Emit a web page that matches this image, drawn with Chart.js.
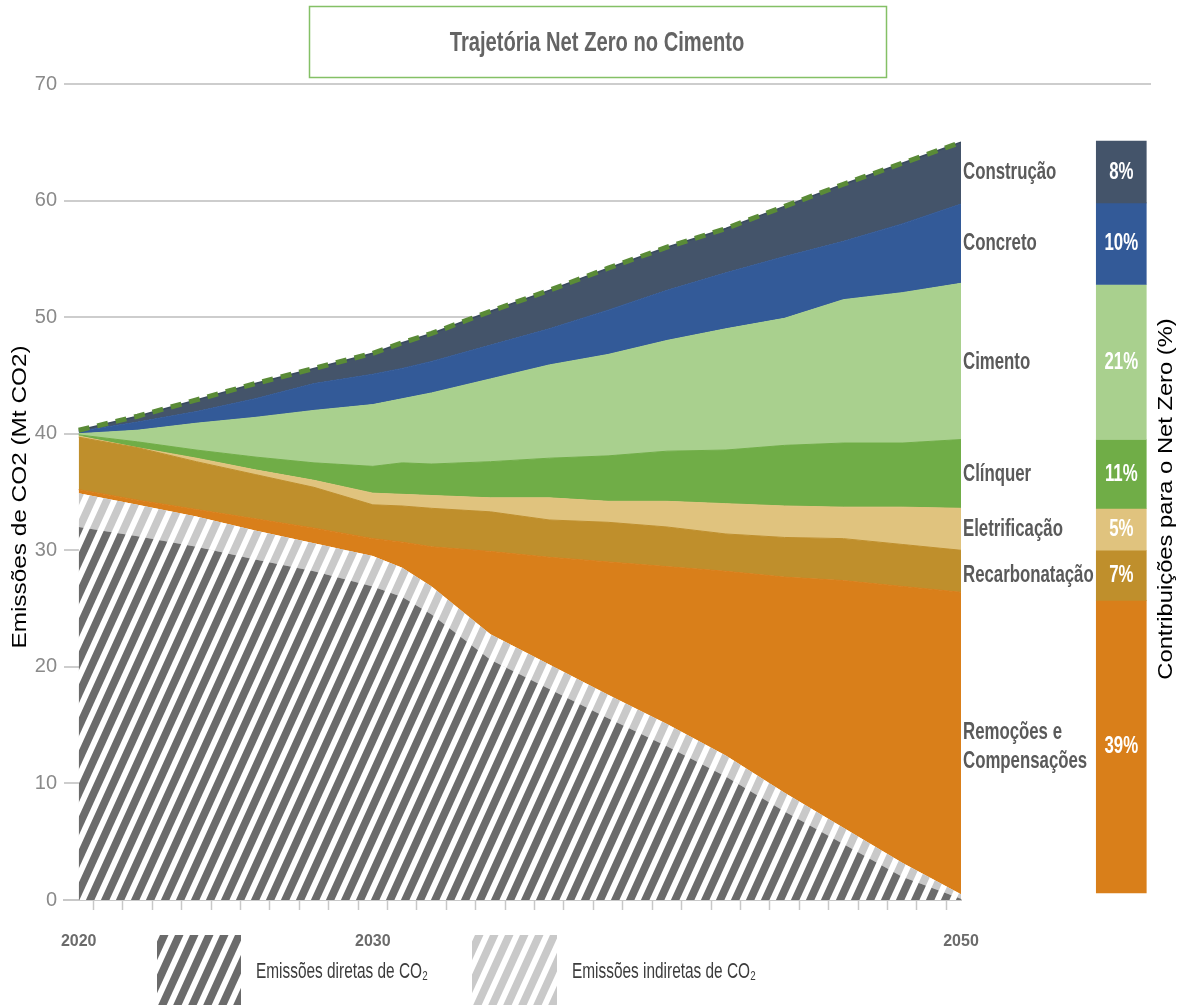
<!DOCTYPE html>
<html lang="pt">
<head>
  <meta charset="UTF-8">
  <title>Trajetória Net Zero no Cimento</title>
  <script src="https://cdn.jsdelivr.net/npm/chart.js"></script>
  <style>
    html, body { margin: 0; padding: 0; background: #fff; }
    canvas { display: block; }
  </style>
</head>
<body>
  <canvas id="netZero" width="1180" height="1007"></canvas>
  <script>
    // --- data (Mt CO2 per layer, stacked bottom to top) ---
    const years = [2020, 2022, 2024, 2026, 2028, 2030, 2031, 2032, 2034, 2036, 2038, 2040, 2042, 2044, 2046, 2048, 2050];
    const diretas        = [32.0, 31.2, 30.3, 29.2, 28.2, 26.9, 26.0, 24.5, 20.6, 18.1, 15.6, 13.2, 10.6, 7.6, 4.8, 2.0, 0.1];
    const indiretas      = [2.9, 2.7, 2.6, 2.5, 2.4, 2.6, 2.5, 2.4, 2.2, 2.1, 2.0, 1.9, 1.8, 1.6, 1.4, 1.2, 0.4];
    const remocoes       = [0.3, 0.4, 0.6, 1.0, 1.3, 1.5, 2.2, 3.4, 7.1, 9.2, 11.4, 13.5, 15.8, 18.5, 21.2, 23.7, 25.9];
    const recarbonatacao = [4.5, 4.5, 4.1, 3.8, 3.5, 2.9, 3.1, 3.3, 3.4, 3.2, 3.4, 3.4, 3.2, 3.4, 3.6, 3.6, 3.6];
    const eletrificacao  = [0.1, 0.0, 0.3, 0.4, 0.6, 1.0, 1.0, 1.1, 1.2, 1.9, 1.8, 2.2, 2.6, 2.7, 2.7, 3.2, 3.6];
    const clinquer       = [0.1, 0.5, 0.7, 1.1, 1.5, 2.3, 2.7, 2.7, 3.1, 3.4, 3.9, 4.3, 4.6, 5.2, 5.5, 5.5, 5.9];
    const cimento        = [0.1, 1.0, 2.3, 3.4, 4.5, 5.3, 5.5, 6.1, 7.1, 8.0, 8.7, 9.5, 10.4, 10.9, 12.3, 12.9, 13.4];
    const concreto       = [0.2, 0.7, 1.0, 1.6, 2.3, 2.6, 2.6, 2.7, 2.9, 3.1, 3.8, 4.3, 4.8, 5.3, 5.0, 5.9, 6.8];
    const construcao     = [0.1, 0.5, 1.0, 1.3, 1.3, 1.8, 2.2, 2.4, 2.9, 3.3, 3.6, 3.7, 3.8, 4.3, 4.9, 5.2, 5.3];

    // contribution column (bottom to top)
    const contribNames = ['Remoções e\nCompensações', 'Recarbonatação', 'Eletrificação', 'Clínquer', 'Cimento', 'Concreto', 'Construção'];
    const contribPct   = [39, 7, 5, 11, 21, 10, 8];
    const contribEdges = [0.6, 25.7, 30.0, 33.6, 39.5, 52.8, 59.8, 65.1];

    const labeledYears = [2020, 2030, 2050];
    const yTicks = [0, 10, 20, 30, 40, 50, 60, 70];

    // --- styling / layout ---
    const SANS = "'Liberation Sans', Arial, sans-serif";
    const COLORS = {
      remocoes: '#d97f1a', recarb: '#bf8f2c', eletr: '#e0c37e', clinquer: '#70ad47',
      cimento: '#a9d08e', concreto: '#335a98', construcao: '#44546a'
    };
    const contribColors = [COLORS.remocoes, COLORS.recarb, COLORS.eletr, COLORS.clinquer, COLORS.cimento, COLORS.concreto, COLORS.construcao];
    const COLUMN_X = 2055.45;   // where the contribution column sits, in axis units
    const GRID = '#cdcdcd';

    const canvas = document.getElementById('netZero');
    const ctx = canvas.getContext('2d');

    function makeHatch(stripe) {
      const P = 15, H = 33, sw = 8.5;
      const tile = document.createElement('canvas');
      tile.width = P; tile.height = H;
      const g = tile.getContext('2d');
      g.fillStyle = '#fff';
      g.fillRect(0, 0, P, H);
      g.fillStyle = stripe;
      for (const o of [-P, 0, P]) {
        g.beginPath();
        g.moveTo(o, H);
        g.lineTo(o + sw, H);
        g.lineTo(o + sw + P, 0);
        g.lineTo(o + P, 0);
        g.closePath();
        g.fill();
      }
      return ctx.createPattern(tile, 'repeat');
    }
    const hatchDark = makeHatch('#6b6b6b');
    const hatchLight = makeHatch('#c9c9c9');

    // condensed-looking text: squeeze along the text direction
    function squeezeText(c, text, x, y, o) {
      c.save();
      c.translate(x, y);
      if (o.rotate) c.rotate(o.rotate);
      c.scale(o.sx, 1);
      c.font = o.font;
      c.fillStyle = o.color;
      c.textAlign = o.align || 'left';
      c.textBaseline = 'middle';
      c.fillText(text, 0, 0);
      c.restore();
    }

    const pts = values => years.map((yr, i) => ({ x: yr, y: values[i] }));

    function area(label, values, color, extra) {
      return Object.assign({
        type: 'line', label, data: pts(values),
        backgroundColor: color, borderColor: color, borderWidth: 1,
        pointRadius: 0, fill: '-1', tension: 0, yAxisID: 'y'
      }, extra || {});
    }

    const datasets = [
      area('Emissões diretas de CO₂', diretas, hatchDark, { fill: 'origin', borderWidth: 0 }),
      area('Emissões indiretas de CO₂', indiretas, hatchLight, { borderWidth: 0 }),
      area('Remoções e Compensações', remocoes, COLORS.remocoes),
      area('Recarbonatação', recarbonatacao, COLORS.recarb),
      area('Eletrificação', eletrificacao, COLORS.eletr),
      area('Clínquer', clinquer, COLORS.clinquer),
      area('Cimento', cimento, COLORS.cimento),
      area('Concreto', concreto, COLORS.concreto),
      area('Construção', construcao, COLORS.construcao, { borderColor: '#3a4a5e', borderWidth: 1.5 }),
      {
        type: 'bar', label: 'Contribuições para o Net Zero (%)', yAxisID: 'yb', clip: false,
        data: contribPct.map((p, i) => ({ x: COLUMN_X, y: [contribEdges[i], contribEdges[i + 1]] })),
        backgroundColor: contribColors, borderWidth: 0, barThickness: 50
      }
    ];
    const TOP_IDX = 8, BAR_IDX = 9;

    // half-year ticks between the years + the labelled years
    const xTickValues = [];
    for (let y = 2020; y < 2050; y++) xTickValues.push(y + 0.5);
    labeledYears.forEach(y => xTickValues.push(y));
    xTickValues.sort((a, b) => a - b);

    const decor = {
      id: 'decor',
      afterDatasetsDraw(chart) {
        // dashed net zero trajectory on top of the stack
        const c = chart.ctx;
        const meta = chart.getDatasetMeta(TOP_IDX);
        c.save();
        c.beginPath();
        meta.data.forEach((p, i) => i ? c.lineTo(p.x, p.y) : c.moveTo(p.x, p.y));
        c.setLineDash([11, 8]);
        c.lineWidth = 5;
        c.strokeStyle = '#5a8b37';
        c.stroke();
        c.restore();
      },
      afterDraw(chart) {
        const c = chart.ctx;
        const area = chart.chartArea;
        const yScale = chart.scales.y;
        c.save();

        // title box
        c.strokeStyle = '#84c066';
        c.lineWidth = 1.5;
        c.strokeRect(309.5, 6.5, 577, 71);
        squeezeText(c, 'Trajetória Net Zero no Cimento', 597, 43,
          { font: 'bold 28px ' + SANS, sx: 0.72, color: '#646464', align: 'center' });

        // top gridline runs on past the column
        const y70 = yScale.getPixelForValue(70);
        c.strokeStyle = GRID;
        c.lineWidth = 2;
        c.beginPath();
        c.moveTo(area.right, y70);
        c.lineTo(1151, y70);
        c.stroke();

        // column names and percentages
        const bars = chart.getDatasetMeta(BAR_IDX).data;
        bars.forEach((el, i) => {
          const cy = (el.y + el.base) / 2;
          squeezeText(c, contribPct[i] + '%', el.x, cy,
            { font: 'bold 24px ' + SANS, sx: 0.7, color: '#ffffff', align: 'center' });
          const lines = contribNames[i].split('\n');
          lines.forEach((ln, k) => {
            squeezeText(c, ln, area.right + 2, cy + (k - (lines.length - 1) / 2) * 29,
              { font: 'bold 24px ' + SANS, sx: 0.7, color: '#5a5a5a' });
          });
        });

        // axis titles (left and right)
        const midY = (area.top + area.bottom) / 2 + 5;
        squeezeText(c, 'Emissões de CO2 (Mt CO2)', 20, midY,
          { font: '21px ' + SANS, sx: 1.16, color: '#000', align: 'center', rotate: -Math.PI / 2 });
        squeezeText(c, 'Contribuições para o Net Zero (%)', 1166, 499,
          { font: '21px ' + SANS, sx: 1.13, color: '#000', align: 'center', rotate: -Math.PI / 2 });

        // legend for the hatched layers
        const legendItems = [{ ds: 0, x: 157, w: 84 }, { ds: 1, x: 472, w: 85 }];
        legendItems.forEach(it => {
          const ds = chart.data.datasets[it.ds];
          c.fillStyle = ds.backgroundColor;
          c.fillRect(it.x, 935, it.w, 70);
          squeezeText(c, ds.label, it.x + it.w + 15, 972,
            { font: '22px ' + SANS, sx: 0.7, color: '#3c3c3c' });
        });
        c.restore();
      }
    };

    new Chart(ctx, {
      type: 'line',
      data: { datasets },
      options: {
        responsive: false,
        animation: false,
        layout: { padding: { left: 4, right: 219, top: 84, bottom: 0 } },
        plugins: {
          legend: { display: false },
          tooltip: { enabled: false }
        },
        scales: {
          x: {
            type: 'linear', min: 2019.5, max: 2050, offset: false,
            afterBuildTicks: scale => { scale.ticks = xTickValues.map(v => ({ value: v })); },
            afterFit: scale => { scale.height = 107; },
            border: { display: true, color: '#c8c8c8', width: 2 },
            grid: {
              offset: false, drawOnChartArea: false, drawTicks: true, tickLength: 10,
              color: '#c8c8c8', tickWidth: 1.5,
              tickColor: c => Number.isInteger(c.tick && c.tick.value) ? 'rgba(0,0,0,0)' : '#c8c8c8'
            },
            ticks: {
              autoSkip: false, maxRotation: 0, padding: 22, color: '#6b6b6b',
              font: { family: SANS, size: 16, weight: 'bold' },
              callback: v => labeledYears.includes(v) ? String(v) : ''
            }
          },
          y: {
            type: 'linear', stacked: true, min: 0, max: 70,
            afterBuildTicks: scale => { scale.ticks = yTicks.map(v => ({ value: v })); },
            afterFit: scale => { scale.width = 60; },
            border: { display: false },
            grid: { color: GRID, lineWidth: 2, drawTicks: false },
            ticks: { padding: 7, color: '#8a8a8a', font: { family: SANS, size: 20 } }
          },
          yb: { type: 'linear', display: false, min: 0, max: 70 }
        }
      },
      plugins: [decor]
    });
  </script>
</body>
</html>
